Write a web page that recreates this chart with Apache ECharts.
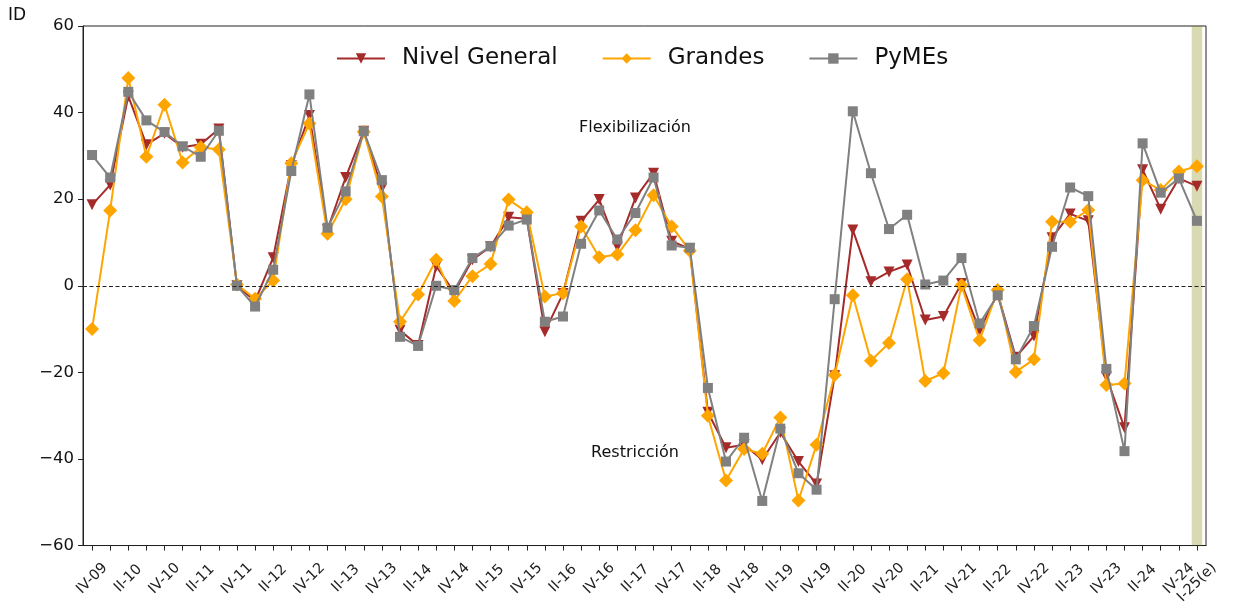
<!DOCTYPE html>
<html>
<head>
<meta charset="utf-8">
<script src="https://cdn.jsdelivr.net/npm/echarts@6/dist/echarts.min.js"></script>
<style>
  html, body { margin: 0; padding: 0; background: #fff; }
  #chart { width: 1234px; height: 607px; }
</style>
</head>
<body>
<div id="chart"></div>
<script>
const categories = ['IV-09','I-10','II-10','III-10','IV-10','I-11','II-11','III-11','IV-11','I-12','II-12','III-12','IV-12','I-13','II-13','III-13','IV-13','I-14','II-14','III-14','IV-14','I-15','II-15','III-15','IV-15','I-16','II-16','III-16','IV-16','I-17','II-17','III-17','IV-17','I-18','II-18','III-18','IV-18','I-19','II-19','III-19','IV-19','I-20','II-20','III-20','IV-20','I-21','II-21','III-21','IV-21','I-22','II-22','III-22','IV-22','I-23','II-23','III-23','IV-23','I-24','II-24','III-24','IV-24','I-25(e)'];

const nivelGeneral = [18.7, 23.3, 43.8, 32.6, 35.2, 32.0, 32.7, 36.2, 0.0, -3.5, 6.5, 27.8, 39.3, 13.0, 25.0, 35.7, 22.5, -10.3, -13.8, 4.5, -1.5, 6.0, 9.0, 15.8, 15.5, -10.6, -1.8, 14.9, 19.9, 9.0, 20.3, 26.0, 10.3, 8.5, -29.2, -37.4, -36.7, -40.2, -33.9, -40.6, -45.8, -20.8, 12.9, 0.9, 3.2, 4.8, -7.9, -7.1, 0.5, -10.3, -1.8, -16.5, -11.6, 11.1, 16.6, 15.0, -21.0, -32.8, 26.8, 17.7, 24.8, 23.0];
const grandes = [-10.0, 17.4, 48.0, 29.8, 41.8, 28.5, 32.0, 31.5, 0.3, -3.0, 1.2, 28.3, 37.5, 12.0, 20.0, 35.6, 20.6, -8.3, -2.0, 6.0, -3.5, 2.2, 5.0, 19.9, 17.0, -2.5, -1.7, 13.7, 6.6, 7.2, 12.8, 20.9, 13.7, 8.1, -30.0, -45.0, -37.7, -38.8, -30.4, -49.6, -36.7, -20.6, -2.2, -17.3, -13.2, 1.5, -22.0, -20.2, 0.1, -12.6, -1.0, -19.9, -17.0, 14.8, 14.8, 17.5, -22.9, -22.6, 24.4, 22.1, 26.4, 27.6];
const pymes = [30.2, 25.0, 44.8, 38.2, 35.5, 32.2, 29.8, 35.8, 0.0, -4.8, 3.7, 26.5, 44.2, 13.4, 21.8, 35.7, 24.4, -11.8, -13.9, 0.0, -1.0, 6.4, 9.1, 13.9, 15.3, -8.3, -7.1, 9.7, 17.4, 10.7, 16.8, 25.0, 9.3, 8.8, -23.6, -40.6, -35.1, -49.7, -33.0, -43.3, -47.1, -3.1, 40.3, 26.0, 13.1, 16.4, 0.3, 1.2, 6.4, -8.7, -2.2, -17.0, -9.3, 9.0, 22.7, 20.7, -19.2, -38.2, 32.9, 21.5, 24.8, 15.0];

const yTicks = [-60, -40, -20, 0, 20, 40, 60];
const estimateBand = [60.71, 61.29];

const FONT = 'DejaVu Sans';
const LAST = categories.length - 1;
const chart = echarts.init(document.getElementById('chart'), null, { renderer: 'canvas' });

const xLabelBase = { rotate: 45, align: 'center', verticalAlign: 'middle', fontSize: 14.5, color: '#222', fontFamily: FONT, hideOverlap: false };

const option = {
  animation: false,
  backgroundColor: '#fff',
  textStyle: { fontFamily: FONT },
  grid: { left: 83, right: 28, top: 26, bottom: 61, show: true, borderColor: '#222', borderWidth: 1 },
  legend: {
    data: ['Nivel General', 'Grandes', 'PyMEs'],
    left: 331, top: 42,
    itemWidth: 48, itemHeight: 13, itemGap: 44,
    textStyle: { fontSize: 23, color: '#111', fontFamily: FONT, padding: [0, 0, 0, 12] }
  },
  xAxis: [
    {
      type: 'category', data: categories, boundaryGap: true,
      axisLine: { onZero: false, lineStyle: { color: '#222', width: 1 } },
      axisTick: { show: true, interval: 0, alignWithLabel: true, length: 5, lineStyle: { color: '#222' } },
      axisLabel: Object.assign({}, xLabelBase, {
        interval: function (index) { return index % 2 === 0; },
        showMinLabel: true, showMaxLabel: true, margin: 33
      }),
      splitLine: { show: false }
    },
    { type: 'value', min: -0.5, max: LAST + 0.5, show: false },
    {
      type: 'category', data: categories, boundaryGap: true, position: 'bottom',
      axisLine: { show: false, onZero: false }, axisTick: { show: false }, splitLine: { show: false },
      axisLabel: Object.assign({}, xLabelBase, {
        interval: function (index) { return index === LAST; },
        showMinLabel: false, showMaxLabel: true, margin: 37
      })
    }
  ],
  yAxis: {
    type: 'value', min: yTicks[0], max: yTicks[yTicks.length - 1], interval: 20,
    axisLine: { show: true, onZero: false, lineStyle: { color: '#222', width: 1 } },
    axisTick: { show: true, length: 5, lineStyle: { color: '#222' } },
    axisLabel: { fontSize: 16.5, color: '#111', margin: 9, fontFamily: FONT,
      formatter: function (v) { return String(v).replace('-', '\u2212'); } },
    splitLine: { show: false }
  },
  series: [
    {
      name: 'Nivel General', type: 'line', data: nivelGeneral, z: 2,
      symbol: 'triangle', symbolRotate: 180, symbolSize: 11, showAllSymbol: true,
      lineStyle: { color: '#a52a2a', width: 2 }, itemStyle: { color: '#a52a2a' },
      markLine: {
        silent: true, symbol: 'none', label: { show: false },
        lineStyle: { color: '#222', width: 1, type: [4, 2.5] },
        data: [{ yAxis: 0 }]
      }
    },
    {
      name: 'Grandes', type: 'line', data: grandes, z: 3,
      symbol: 'diamond', symbolSize: 14, showAllSymbol: true,
      lineStyle: { color: '#ffa500', width: 2 }, itemStyle: { color: '#ffa500' }
    },
    {
      name: 'PyMEs', type: 'line', data: pymes, z: 4,
      symbol: 'rect', symbolSize: 10, showAllSymbol: true,
      lineStyle: { color: '#808080', width: 2 }, itemStyle: { color: '#808080' }
    },
    {
      name: 'band', type: 'line', xAxisIndex: 1, data: [], z: 10, silent: true,
      markArea: {
        silent: true, itemStyle: { color: 'rgba(128,128,0,0.3)' },
        data: [[{ xAxis: estimateBand[0], yAxis: yTicks[0] }, { xAxis: estimateBand[1], yAxis: yTicks[yTicks.length - 1] }]]
      }
    }
  ],
  graphic: [
    { type: 'text', left: 8, top: 7, style: { text: 'ID', fontSize: 17, fill: '#111', fontFamily: FONT } },
    { type: 'text', x: 635, y: 128, style: { text: 'Flexibilización', fontSize: 16, fill: '#111', fontFamily: FONT, align: 'center', verticalAlign: 'middle' } },
    { type: 'text', x: 635, y: 453, style: { text: 'Restricción', fontSize: 16, fill: '#111', fontFamily: FONT, align: 'center', verticalAlign: 'middle' } }
  ]
};
chart.setOption(option);
</script>
</body>
</html>
